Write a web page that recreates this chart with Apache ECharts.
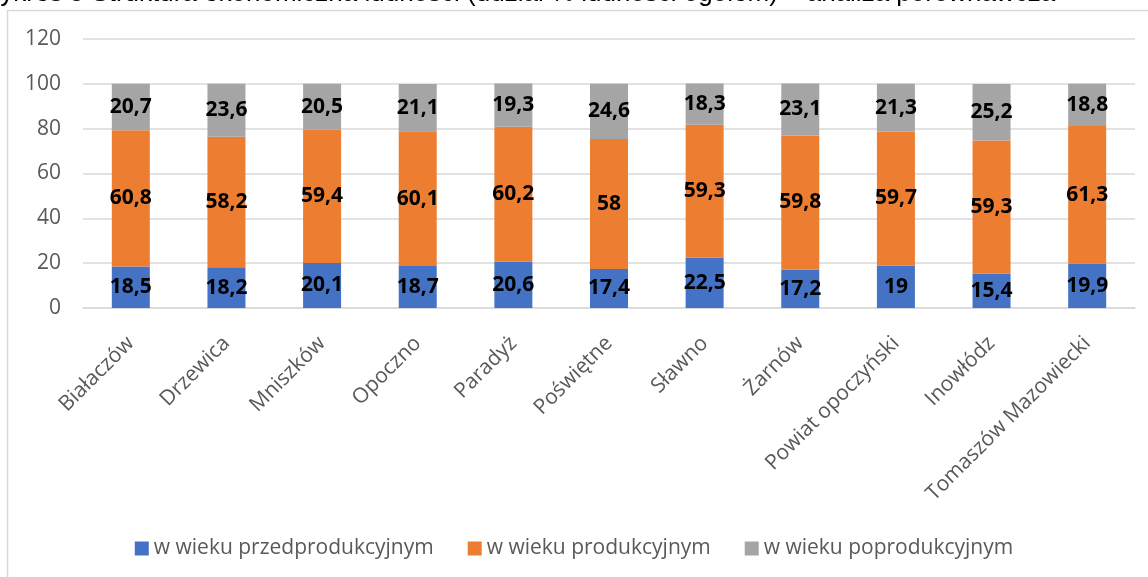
<!DOCTYPE html>
<html><head><meta charset="utf-8">
<script src="https://cdn.jsdelivr.net/npm/echarts@6/dist/echarts.min.js"></script>
<style>html,body{margin:0;padding:0;background:#fff}#c{width:1148px;height:577px}</style>
</head><body><div id="c"></div>
<script>
const categories = ["Białaczów","Drzewica","Mniszków","Opoczno","Paradyż","Poświętne","Sławno","Żarnów","Powiat opoczyński","Inowłódz","Tomaszów Mazowiecki"];
const przedprodukcyjny = [18.5,18.2,20.1,18.7,20.6,17.4,22.5,17.2,19,15.4,19.9];
const produkcyjny = [60.8,58.2,59.4,60.1,60.2,58,59.3,59.8,59.7,59.3,61.3];
const poprodukcyjny = [20.7,23.6,20.5,21.1,19.3,24.6,18.3,23.1,21.3,25.2,18.8];
const seriesNames = ["w wieku przedprodukcyjnym","w wieku produkcyjnym","w wieku poprodukcyjnym"];
const colors = ["#4472C4","#ED7D31","#A5A5A5"];
const titleText = "Wykres 5 Struktura ekonomiczna ludności (udział % ludności ogółem) – analiza porównawcza";

const chart = echarts.init(document.getElementById('c'));
const font = "Open Sans";
const lbl = {show:true, position:'inside', color:'#000', fontWeight:'bold', fontSize:21, fontFamily:font,
  formatter: p => String(p.value).replace('.', ',')};
function mk(name, data, color){
  return {name, type:'bar', stack:'s', data, barWidth:38, itemStyle:{color}, label:lbl};
}
chart.setOption({
  animation:false,
  graphic:[
    {type:'rect', shape:{x:7.5,y:10.5,width:1200,height:700}, style:{fill:'none', stroke:'#d9d9d9', lineWidth:1.5}, z:-1},
    {type:'text', left:-24, top:-19, style:{text:titleText, fontSize:26, fontFamily:'Liberation Sans', fill:'#000'}}
  ],
  grid:{left:83, right:13, top:39, bottom:269},
  legend:{bottom:13, left:'center', itemWidth:14, itemHeight:14, itemGap:34, icon:'rect',
    textStyle:{fontSize:21, color:'#595959', fontFamily:font}},
  xAxis:{type:'category', data:categories,
    axisLine:{lineStyle:{color:'#d9d9d9', width:1.5}}, axisTick:{show:false},
    axisLabel:{rotate:45, fontSize:21, color:'#595959', fontFamily:font, margin:32, interval:0}},
  yAxis:{type:'value', min:0, max:120, interval:20,
    axisLine:{show:false}, axisTick:{show:false},
    splitLine:{lineStyle:{color:'#d9d9d9', width:1.5}},
    axisLabel:{fontSize:21, color:'#595959', fontFamily:font, margin:22}},
  series:[mk(seriesNames[0], przedprodukcyjny, colors[0]), mk(seriesNames[1], produkcyjny, colors[1]), mk(seriesNames[2], poprodukcyjny, colors[2])]
});
</script></body></html>
